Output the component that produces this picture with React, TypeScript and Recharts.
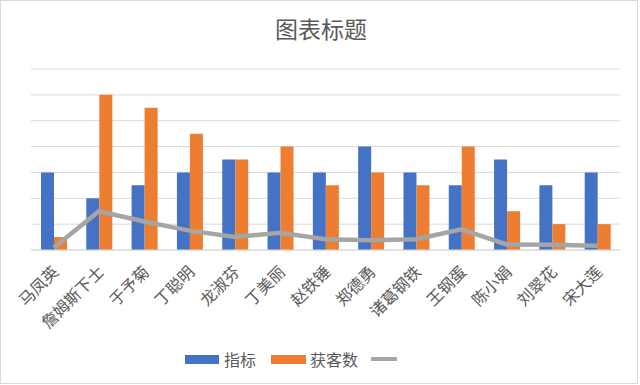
import React from "react";
import {
  ComposedChart,
  Bar,
  Line,
  XAxis,
  YAxis,
  CartesianGrid,
} from "recharts";

const names = [
  "马凤英",
  "詹姆斯下士",
  "于予菊",
  "丁聪明",
  "龙淑芬",
  "丁美丽",
  "赵铁锤",
  "郑德勇",
  "诸葛钢铁",
  "王钢蛋",
  "陈小娟",
  "刘翠花",
  "宋大莲",
];
const target = [6, 4, 5, 6, 7, 6, 6, 8, 6, 5, 7, 5, 6];
const customers = [1, 12, 11, 9, 7, 8, 5, 6, 5, 8, 3, 2, 2];
const rate = [0.17, 3, 2.2, 1.5, 1, 1.33, 0.83, 0.75, 0.83, 1.6, 0.43, 0.4, 0.33];
const yTicks = [0, 2, 4, 6, 8, 10, 12, 14];

const data = names.map((name, i) => ({
  name,
  target: target[i],
  customers: customers[i],
  rate: rate[i],
}));

const FONT = '"Noto Sans CJK SC", "Microsoft YaHei", sans-serif';
const TEXT = "#595959";

function NameTick(props: any) {
  const { x, payload } = props;
  // anchor the end of each rotated label just under the axis line
  const ax = x + 6;
  const ay = 273;
  return (
    <g>
      <text
        x={ax}
        y={ay}
        transform={`rotate(-45, ${ax}, ${ay})`}
        textAnchor="end"
        fill={TEXT}
        fontSize={16}
        fontFamily={FONT}
      >
        {payload.value}
      </text>
    </g>
  );
}

export default function App() {
  return (
    <div
      style={{
        position: "relative",
        width: 638,
        height: 384,
        border: "1px solid #d9d9d9",
        boxSizing: "border-box",
        background: "#fff",
        fontFamily: FONT,
      }}
    >
      <style>{"body{margin:0}"}</style>
      <div
        style={{
          position: "absolute",
          top: 12,
          left: 0,
          width: 640,
          textAlign: "center",
          fontSize: 23,
          color: TEXT,
          lineHeight: "30px",
        }}
      >
        图表标题
      </div>
      <div style={{ position: "absolute", left: -1, top: -1 }}>
        <ComposedChart
          width={640}
          height={385}
          data={data}
          margin={{ top: 69, right: 20, left: 31, bottom: 0 }}
          barGap={0}
        >
          <CartesianGrid vertical={false} stroke="#d9d9d9" />
          <YAxis hide domain={[0, 14]} ticks={yTicks} />
          <XAxis
            dataKey="name"
            height={135}
            interval={0}
            tickLine={false}
            axisLine={{ stroke: "#d9d9d9" }}
            tick={NameTick}
          />
          <Bar
            dataKey="target"
            name="指标"
            fill="#4472C4"
            barSize={13}
            isAnimationActive={false}
          />
          <Bar
            dataKey="customers"
            name="获客数"
            fill="#ED7D31"
            barSize={13}
            isAnimationActive={false}
          />
          <Line
            dataKey="rate"
            name="完成率"
            stroke="#A5A5A5"
            strokeWidth={4.5}
            dot={false}
            isAnimationActive={false}
          />
        </ComposedChart>
      </div>
      <div
        style={{
          position: "absolute",
          top: 347,
          left: 184,
          display: "flex",
          alignItems: "center",
          fontSize: 16,
          color: TEXT,
          height: 22,
        }}
      >
        <span style={{ width: 34, height: 9, background: "#4472C4", display: "inline-block" }} />
        <span style={{ marginLeft: 5 }}>指标</span>
        <span
          style={{
            width: 35,
            height: 9,
            background: "#ED7D31",
            display: "inline-block",
            marginLeft: 15,
          }}
        />
        <span style={{ marginLeft: 4 }}>获客数</span>
        <span
          style={{
            width: 26,
            height: 4,
            background: "#A5A5A5",
            display: "inline-block",
            marginLeft: 13,
          }}
        />
      </div>
    </div>
  );
}
